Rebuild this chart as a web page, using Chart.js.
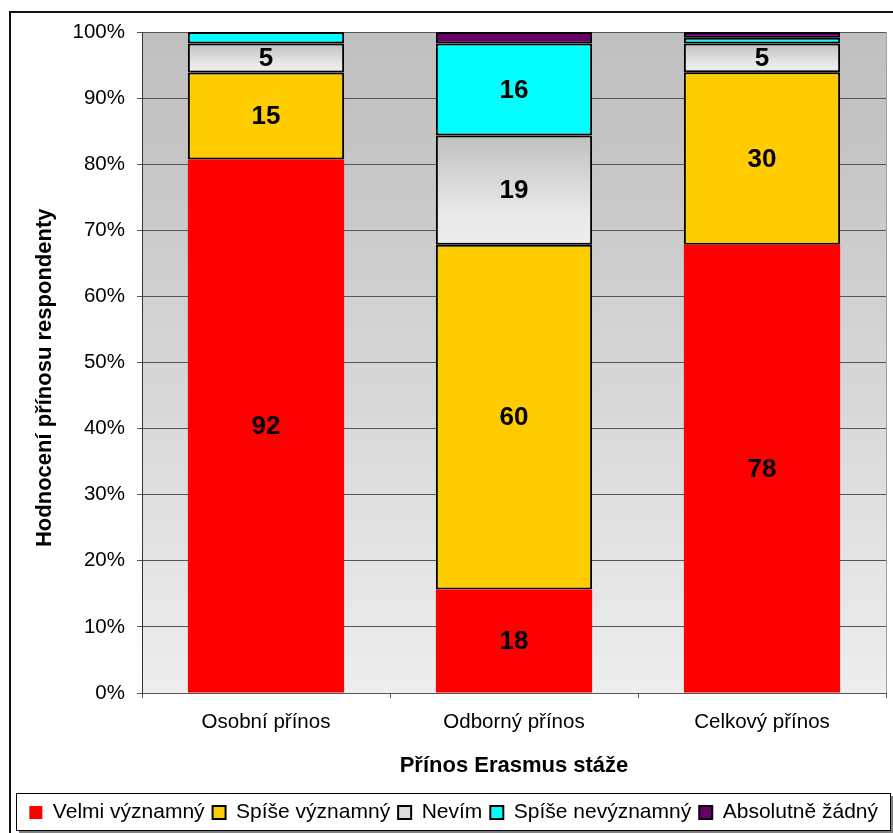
<!DOCTYPE html>
<html>
<head>
<meta charset="utf-8">
<script src="https://cdn.jsdelivr.net/npm/chart.js@4/dist/chart.umd.min.js"></script>
<style>
  html, body { margin: 0; padding: 0; background: #fff; }
  #wrap { width: 893px; height: 833px; }
</style>
</head>
<body>
<div id="wrap"><canvas id="erasmusChart" width="893" height="833"></canvas></div>
<script>
// Data - counts of respondents
const categories = ['Osobní přínos', 'Odborný přínos', 'Celkový přínos'];
const seriesNames = ['Velmi významný', 'Spíše významný', 'Nevím', 'Spíše nevýznamný', 'Absolutně žádný'];
const velmi = [92, 18, 78];
const spiseVyz = [15, 60, 30];
const nevim = [5, 19, 5];
const spiseNevyz = [2, 16, 1];
const zadny = [0, 2, 1];
const yTicks = [0, 10, 20, 30, 40, 50, 60, 70, 80, 90, 100];

const counts = [velmi, spiseVyz, nevim, spiseNevyz, zadny];
const totals = categories.map((c, i) => counts.reduce((s, arr) => s + arr[i], 0));
const pct = counts.map(arr => arr.map((v, i) => v / totals[i] * 100));

const colors = ['#ff0000', '#ffcc00', null, '#00ffff', '#660066'];
const FONT = '"Liberation Sans", Arial, sans-serif';

// gradient for the "Nevím" segment
function nevimFill(c) {
    const chart = c.chart;
    if (!chart.chartArea || !chart.scales.y) return '#dddddd';
    const i = c.dataIndex;
    let base = 0;
    for (let d = 0; d < 2; d++) base += pct[d][i];
    const y = chart.scales.y;
    const top = y.getPixelForValue(base + pct[2][i]);
    const bottom = y.getPixelForValue(base);
    const g = chart.ctx.createLinearGradient(0, top, 0, bottom);
    g.addColorStop(0, '#c0c0c0');
    g.addColorStop(0.7, '#e8e8e8');
    g.addColorStop(1, '#eeeeee');
    return g;
}

const datasets = seriesNames.map((name, d) => ({
    label: name,
    data: pct[d],
    counts: counts[d],
    backgroundColor: d === 2 ? nevimFill : colors[d],
    borderColor: '#000000',
    borderWidth: d === 0 ? 0 : 2,
    borderSkipped: false,
    categoryPercentage: 1,
    barPercentage: 0.63
}));

// plot background + outer frame
const backgroundPlugin = {
    id: 'plotBackground',
    beforeDraw(chart) {
        const ctx = chart.ctx;
        const a = chart.chartArea;
        ctx.save();
        ctx.fillStyle = '#ffffff';
        ctx.fillRect(0, 0, chart.width, chart.height);
        const g = ctx.createLinearGradient(0, a.top, 0, a.bottom);
        g.addColorStop(0, '#c0c0c0');
        g.addColorStop(0.15, '#c4c4c4');
        g.addColorStop(1, '#eeeeee');
        ctx.fillStyle = g;
        ctx.fillRect(a.left, a.top, a.right - a.left, a.bottom - a.top);
        // right edge of plot area
        ctx.strokeStyle = '#a0a0a0';
        ctx.lineWidth = 1;
        ctx.beginPath();
        ctx.moveTo(a.right + 0.5, a.top);
        ctx.lineTo(a.right + 0.5, a.bottom);
        ctx.stroke();
        // chart frame
        ctx.strokeStyle = '#111111';
        ctx.lineWidth = 2;
        ctx.beginPath();
        ctx.moveTo(10, chart.height + 5);
        ctx.lineTo(10, 12);
        ctx.lineTo(chart.width + 5, 12);
        ctx.stroke();
        ctx.restore();
    }
};

// value labels inside the segments
const valueLabels = {
    id: 'valueLabels',
    afterDatasetsDraw(chart) {
        const ctx = chart.ctx;
        ctx.save();
        ctx.font = 'bold 26px ' + FONT;
        ctx.fillStyle = '#000';
        ctx.textAlign = 'center';
        ctx.textBaseline = 'middle';
        chart.data.datasets.forEach((ds, d) => {
            chart.getDatasetMeta(d).data.forEach((bar, i) => {
                const v = ds.counts[i];
                if (v < 5) return;
                const p = bar.getProps(['x', 'y', 'base'], true);
                ctx.fillText(String(v), p.x, (p.y + p.base) / 2 + 1);
            });
        });
        ctx.restore();
    }
};

// border and shadow around the legend
const legendFrame = {
    id: 'legendFrame',
    afterDraw(chart) {
        const l = chart.legend;
        if (!l) return;
        const ctx = chart.ctx;
        const x = 16, y = 793, w = 874, h = 37;
        ctx.save();
        ctx.fillStyle = '#808080';
        ctx.fillRect(x + 3, y + h, w, 3);
        ctx.fillRect(x + w, y + 3, 3, h);
        ctx.strokeStyle = '#000';
        ctx.lineWidth = 1;
        ctx.strokeRect(x + 0.5, y + 0.5, w, h);
        ctx.restore();
    }
};

const ctx = document.getElementById('erasmusChart').getContext('2d');
const erasmusChart = new Chart(ctx, {
    type: 'bar',
    data: {
        labels: categories,
        datasets: datasets
    },
    options: {
        responsive: false,
        animation: false,
        layout: {
            padding: { left: 10, right: 7, top: 32, bottom: 0 }
        },
        plugins: {
            legend: {
                position: 'bottom',
                align: 'end',
                labels: {
                    color: '#000',
                    font: { family: FONT, size: 21 },
                    boxWidth: 13,
                    boxHeight: 13,
                    padding: 8,
                    generateLabels(chart) {
                        return chart.data.datasets.map((ds, d) => ({
                            text: ds.label,
                            fillStyle: d === 2 ? '#dddddd' : colors[d],
                            strokeStyle: '#000',
                            lineWidth: d === 0 ? 0 : 2,
                            datasetIndex: d,
                            hidden: false
                        }));
                    }
                }
            },
            tooltip: { enabled: false }
        },
        scales: {
            x: {
                stacked: true,
                grid: {
                    drawOnChartArea: false,
                    drawTicks: true,
                    tickLength: 5,
                    color: '#555'
                },
                border: { color: '#555', width: 1 },
                ticks: {
                    color: '#000',
                    font: { family: FONT, size: 20.5 },
                    padding: 12
                },
                title: {
                    display: true,
                    text: 'Přínos Erasmus stáže',
                    color: '#000',
                    font: { family: FONT, size: 22, weight: 'bold' },
                    padding: { top: 0, bottom: 15 }
                },
                afterFit(scale) { scale.height = 101; }
            },
            y: {
                stacked: true,
                min: 0,
                max: 100,
                afterBuildTicks(scale) { scale.ticks = yTicks.map(v => ({ value: v })); },
                grid: {
                    color: '#555',
                    lineWidth: 1,
                    tickLength: 5
                },
                border: { color: '#333', width: 1 },
                ticks: {
                    color: '#000',
                    font: { family: FONT, size: 20.5 },
                    padding: 12,
                    callback: v => v + '%'
                },
                title: {
                    display: true,
                    text: 'Hodnocení přínosu respondenty     ',
                    color: '#000',
                    font: { family: FONT, size: 22, weight: 'bold' },
                    padding: { top: 22, bottom: 0 }
                },
                afterFit(scale) { scale.width = 132; }
            }
        }
    },
    plugins: [backgroundPlugin, valueLabels, legendFrame]
});
</script>
</body>
</html>
